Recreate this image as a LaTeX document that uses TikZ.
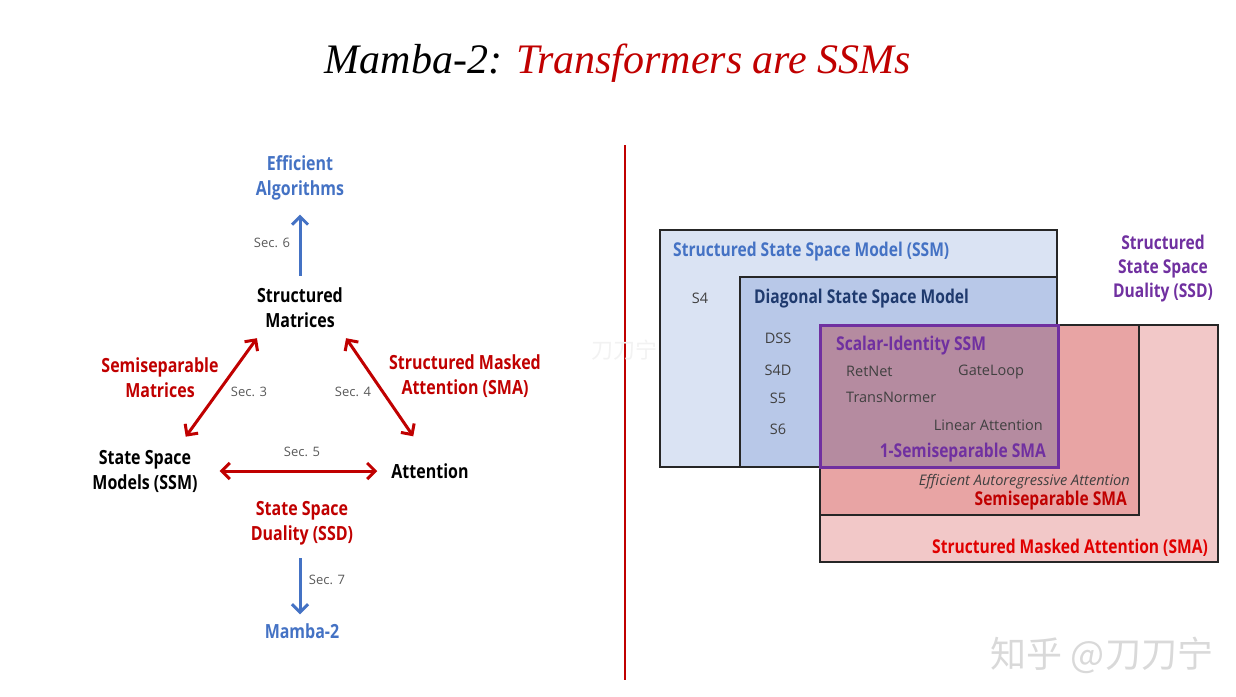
\documentclass[tikz,border=0pt]{standalone}
\usepackage{fontspec}
\setmainfont{Open Sans}
\newfontfamily\titlefont{Liberation Serif}
\newfontfamily\condb[FakeStretch=0.82]{Open Sans}
\newfontfamily\cjkf{Noto Sans CJK SC}
\usetikzlibrary{arrows.meta}
\definecolor{mblue}{HTML}{4472C4}
\definecolor{mred}{HTML}{C00000}
\definecolor{bred}{HTML}{E00000}
\definecolor{mpurple}{HTML}{7030A0}
\definecolor{navy}{HTML}{1F3A6E}
\definecolor{txtgray}{HTML}{404040}
\definecolor{secgray}{HTML}{595959}
\definecolor{fillssm}{HTML}{DAE3F3}
\definecolor{filldiag}{HTML}{B8C8E8}
\definecolor{fillsma}{HTML}{F2C8C8}
\definecolor{fillsemi}{HTML}{E8A4A4}
\definecolor{fillsi}{HTML}{B58BA0}
\definecolor{boxline}{HTML}{262626}
\tikzset{
  lab/.style={font=\condb\bfseries\fontsize{19.5}{25}\selectfont, align=center, inner sep=0pt, yshift=-2pt},
  bl/.style={font=\condb\bfseries\fontsize{19}{24}\selectfont, align=center, inner sep=0pt, yshift=-2pt},
  sec/.style={font=\fontsize{13}{15}\selectfont, text=secgray, inner sep=0pt},
  small/.style={font=\fontsize{14.5}{16}\selectfont, text=txtgray, inner sep=0pt, yshift=-1pt},
  rarrow/.style={draw=mred, line width=3pt, {Straight Barb[length=8pt,width=16pt]}-{Straight Barb[length=8pt,width=16pt]}},
  barrow/.style={draw=mblue, line width=3pt, -{Straight Barb[length=8pt,width=16pt]}},
  box/.style={draw=boxline, line width=1.5pt},
}
\begin{document}
\begin{tikzpicture}[x=1pt,y=-1pt]
\useasboundingbox (0,0) rectangle (1236,696);
% title
\node[font=\titlefont\itshape\fontsize{42}{48}\selectfont, inner sep=0pt] (title) at (618,63) {Mamba-2: \textcolor{mred}{Transformers are SSMs}};
% left diagram
\node[lab, text=mblue] (ea) at (300,176) {Efficient\\Algorithms};
\node[lab] (sm) at (300,306) {Structured\\Matrices};
\node[lab, text=mred] (smat) at (160,376) {Semiseparable\\Matrices};
\node[lab, text=mred] (sma) at (465,374) {Structured Masked\\Attention (SMA)};
\node[lab] (ssm) at (145,469) {State Space\\Models (SSM)};
\node[lab] (att) at (430,469) {Attention};
\node[lab, text=mred] (ssd) at (302,521) {State Space\\Duality (SSD)};
\node[lab, text=mblue] (m2) at (302,629) {Mamba-2};
\node[sec] (s6) at (272,243) {Sec. 6};
\node[sec] (s3) at (249,392) {Sec. 3};
\node[sec] (s4) at (353,392) {Sec. 4};
\node[sec] (s5) at (302,452) {Sec. 5};
\node[sec] (s7) at (327,580) {Sec. 7};
\draw[barrow, shorten <=12pt, shorten >=14pt] (sm) -- (ea);
\draw[rarrow] ([shift={(-12pt,13pt)}]ssm.north east) -- ([shift={(0pt,-10pt)}]sm.south west);
\draw[rarrow] ([shift={(22pt,27pt)}]att.north west) -- ([shift={(3pt,-10pt)}]sm.south east);
\draw[rarrow, shorten <=22pt, shorten >=14pt] (ssm.east |- att.west) -- (att.west);
\draw[barrow, shorten <=13pt, shorten >=9pt] ([xshift=-2pt]ssd.south) -- ([xshift=-2pt]m2.north);
% divider
\coordinate (dtop) at (625,145);
\coordinate (dbot) at (625,680);
\draw[draw=mred, line width=1.3pt] (dtop) -- (dbot);
% right diagram
\draw[box, fill=fillssm] (660,230) rectangle (1057,467);
\draw[box, fill=filldiag] (740,277) rectangle (1057,467);
\draw[box, fill=fillsma] (820,325) rectangle (1218,562);
\draw[box, fill=fillsemi] (820,325) rectangle (1139,515);
\draw[draw=mpurple, line width=3pt, fill=fillsi] (820,325) rectangle (1058,467);
\node[bl, text=mblue, anchor=west] (tssm) at (673,250) {Structured State Space Model (SSM)};
\node[bl, text=navy, anchor=west] (tdiag) at (754,297) {Diagonal State Space Model};
\node[small] (s4t) at (700,297) {S4};
\node[small] (dss) at (778,337) {DSS};
\node[small] (s4d) at (778,369) {S4D};
\node[small] (s5t) at (778,397) {S5};
\node[small] (s6t) at (778,428) {S6};
\node[bl, text=mpurple, anchor=west] (tsi) at (836,344) {Scalar-Identity SSM};
\node[small, anchor=west] (retnet) at (846,370) {RetNet};
\node[small, anchor=west] (gate) at (958,371) {GateLoop};
\node[small, anchor=west] (trans) at (846,396) {TransNormer};
\node[small, anchor=east] (lin) at (1043,424) {Linear Attention};
\node[bl, text=mpurple, anchor=east] (onesemi) at (1046,451) {1-Semiseparable SMA};
\node[small, anchor=east, font=\itshape\fontsize{14.6}{16}\selectfont] (eaa) at (1130,481) {Efficient Autoregressive Attention};
\node[bl, text=mred, anchor=east] (tsemi) at (1127,499) {Semiseparable SMA};
\node[bl, text=bred, anchor=east] (tsma) at (1208,546) {Structured Masked Attention (SMA)};
\node[bl, text=mpurple] (tssd) at (1163,267) {Structured\\State Space\\Duality (SSD)};
% watermarks
\node[font=\cjkf\fontsize{22}{26}\selectfont, text=gray!10, inner sep=0pt] (wm1) at (624,350) {刀刀宁};
\node[font=\cjkf\fontsize{36}{40}\selectfont, text=gray!30, inner sep=0pt] (wm2) at (1102,655) {知乎 @刀刀宁};
\end{tikzpicture}
\end{document}
